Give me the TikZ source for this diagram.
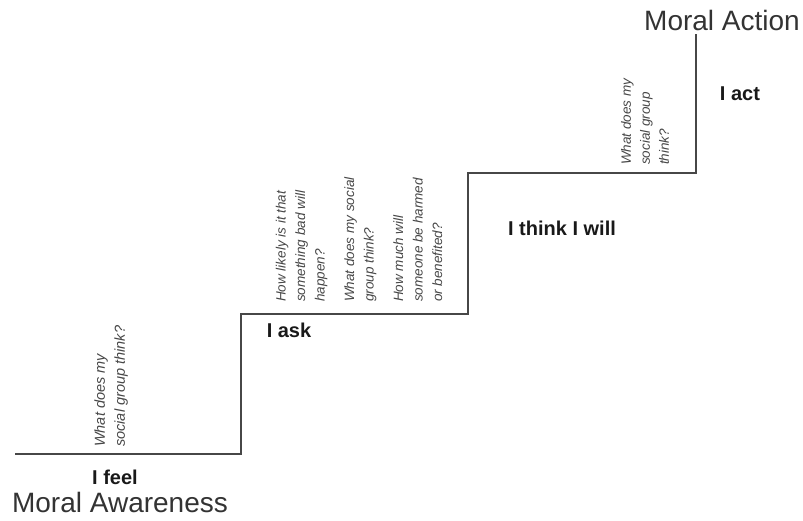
\documentclass[tikz,border=0pt]{standalone}
\usepackage{fontspec}
\setmainfont{Liberation Sans}
\usetikzlibrary{positioning}

\tikzset{
  stair/.style={line width=1.5pt, black!72, line join=miter},
  stage/.style={font=\fontsize{20}{24}\selectfont\bfseries, black!90, inner sep=0pt, anchor=base},
  pole/.style={font=\fontsize{28}{32}\selectfont, black!80, inner sep=0pt, text depth=0pt, anchor=base},
  question/.style={rotate=90, anchor=west, align=left, inner sep=0pt, black!72},
}

\begin{document}
\begin{tikzpicture}[x=1pt, y=-1pt]
		\useasboundingbox (0,0) rectangle (803,520);

		% Trap
		\coordinate (s0) at (15,454);
		\coordinate (s1) at (241,454);
		\coordinate (s2) at (241,314);
		\coordinate (s3) at (468,314);
		\coordinate (s4) at (468,173);
		\coordinate (s5) at (696,173);
		\coordinate (s6) at (696,34);
		\draw[stair] (s0) -- (s1) -- (s2) -- (s3) -- (s4) -- (s5) -- (s6);

		% Begin en eind
		\node[pole] (awareness) at (120,512) {Moral Awareness};
		\node[pole] (action) at (722,30) {Moral Action};

		% Treden
		\node[stage] (feel) at (115,484) {I feel};
		\node[stage] (ask) at (289,337) {I ask};
		\node[stage] (think) at (562,235) {I think I will};
		\node[stage] (act) at (740,100) {I act};

		% Vragen
		\node[question, font=\fontsize{14.5}{20}\selectfont\itshape] (q1) at (111,447)
			{What does my\\social group think?};
		\node[question, font=\fontsize{13.5}{19.5}\selectfont\itshape] (q2) at (359,302)
			{How likely is it that\\something bad will\\happen?\\[10pt]What does my social\\group think?\\[10pt]How much will\\someone be harmed\\or benefited?};
		\node[question, font=\fontsize{13.5}{19}\selectfont\itshape] (q3) at (645,165)
			{What does my\\social group\\think?};

	\end{tikzpicture}
\end{document}
